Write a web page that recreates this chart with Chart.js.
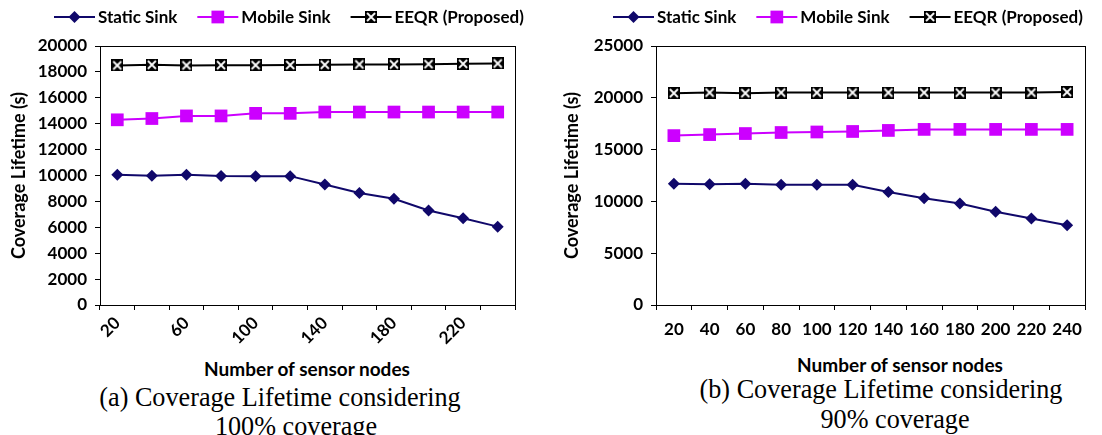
<!DOCTYPE html>
<html>
<head>
<meta charset="utf-8">
<script src="https://cdn.jsdelivr.net/npm/chart.js@4.4.0/dist/chart.umd.min.js"></script>
<style>
  body { margin: 0; background: #fff; width: 1102px; height: 435px; overflow: hidden; position: relative; font-family: Lato, sans-serif; }
  .box { position: absolute; top: 0; }
  .lbl { position: absolute; transform: translate(-50%, -50%); white-space: nowrap; color: #000; }
  .xt { font-weight: bold; font-size: 19px; }
  .cap { font-family: "Liberation Serif", serif; font-size: 27px; transform: translate(-50%, -50%) scaleX(0.97); }
</style>
</head>
<body>
<div class="box" style="left:0;width:550px;height:345px"><canvas id="chartA"></canvas></div>
<div class="box" style="left:550px;width:552px;height:345px"><canvas id="chartB"></canvas></div>
<div class="lbl xt" style="left:307px;top:368px">Number of sensor nodes</div>
<div class="lbl xt" style="left:900px;top:364px">Number of sensor nodes</div>
<div class="lbl cap" style="left:280px;top:397px">(a) Coverage Lifetime considering</div>
<div class="lbl cap" style="left:296px;top:426px">100% coverage</div>
<div class="lbl cap" style="left:881px;top:389px">(b) Coverage Lifetime considering</div>
<div class="lbl cap" style="left:895px;top:419px">90% coverage</div>
<script>
// number of sensor nodes
const nodes = [20, 40, 60, 80, 100, 120, 140, 160, 180, 200, 220, 240];

// (a) 100% coverage
const staticA = [10050, 9980, 10060, 9960, 9950, 9950, 9300, 8650, 8200, 7300, 6700, 6050];
const mobileA = [14300, 14400, 14600, 14600, 14800, 14800, 14900, 14900, 14900, 14900, 14900, 14900];
const eeqrA = [18500, 18550, 18500, 18520, 18520, 18530, 18550, 18580, 18580, 18600, 18620, 18650];
const yMaxA = 20000, yStepA = 2000;

// (b) 90% coverage
const staticB = [11700, 11650, 11700, 11600, 11600, 11600, 10900, 10300, 9800, 9000, 8350, 7700];
const mobileB = [16350, 16450, 16550, 16650, 16700, 16750, 16850, 16950, 16950, 16950, 16950, 16950];
const eeqrB = [20450, 20500, 20450, 20500, 20500, 20500, 20500, 20500, 20500, 20500, 20500, 20550];
const yMaxB = 25000, yStepB = 5000;

const NAVY = "#10086a";
const MAGENTA = "#cc00ff";
const FONT = { family: "Lato", weight: "bold", size: 17 };

// black box with a white cross, used for EEQR points
function boxCross(size) {
  const c = document.createElement("canvas");
  c.width = c.height = size;
  const g = c.getContext("2d");
  g.fillStyle = "#000";
  g.fillRect(0, 0, size, size);
  g.strokeStyle = "#fff";
  g.lineWidth = 1.8;
  g.beginPath();
  g.moveTo(2, 2); g.lineTo(size - 2, size - 2);
  g.moveTo(size - 2, 2); g.lineTo(2, size - 2);
  g.stroke();
  return c;
}
const eeqrMark = boxCross(12);

function drawMarker(ctx, ds, x, y) {
  ctx.save();
  ctx.fillStyle = ds.pointBackgroundColor;
  if (ds.pointStyle === "rectRot") {
    const r = ds.pointRadius;
    ctx.beginPath();
    ctx.moveTo(x, y - r); ctx.lineTo(x + r, y); ctx.lineTo(x, y + r); ctx.lineTo(x - r, y);
    ctx.closePath(); ctx.fill();
  } else if (ds.pointStyle === "rect") {
    const s = ds.pointRadius * Math.SQRT1_2;
    ctx.fillRect(x - s, y - s, 2 * s, 2 * s);
  } else {
    const w = ds.pointStyle.width;
    ctx.drawImage(ds.pointStyle, x - w / 2, y - w / 2);
  }
  ctx.restore();
}

// legend drawn as line + marker, like the original
const lineLegend = {
  id: "lineLegend",
  afterDraw(chart, args, opts) {
    const ctx = chart.ctx;
    let x = opts.x;
    const y = opts.y;
    ctx.save();
    ctx.font = "bold 17px Lato";
    ctx.textBaseline = "middle";
    chart.data.datasets.forEach(ds => {
      ctx.strokeStyle = ds.borderColor;
      ctx.lineWidth = 2;
      ctx.beginPath(); ctx.moveTo(x, y); ctx.lineTo(x + 41, y); ctx.stroke();
      drawMarker(ctx, ds, x + 20.5, y);
      ctx.fillStyle = "#000";
      ctx.fillText(ds.label, x + 44, y + 1);
      x += 44 + ctx.measureText(ds.label).width + 20;
    });
    ctx.restore();
  }
};

// box round the plot area
const frame = {
  id: "frame",
  beforeDatasetsDraw(chart) {
    const a = chart.chartArea, ctx = chart.ctx;
    ctx.save();
    ctx.strokeStyle = "#000";
    ctx.lineWidth = 1;
    ctx.strokeRect(Math.round(a.left) + 0.5, Math.round(a.top) + 0.5, Math.round(a.right - a.left), Math.round(a.bottom - a.top));
    ctx.restore();
  }
};

function makeChart(id, s, m, e, yMax, yStep, o) {
  const series = [
    { label: "Static Sink", data: s, borderColor: NAVY, pointBackgroundColor: NAVY, pointBorderColor: NAVY, pointStyle: "rectRot", pointRadius: 6 },
    { label: "Mobile Sink", data: m, borderColor: MAGENTA, pointBackgroundColor: MAGENTA, pointBorderColor: MAGENTA, pointStyle: "rect", pointRadius: 9 },
    { label: "EEQR (Proposed)", data: e, borderColor: "#000", pointBackgroundColor: "#000", pointBorderColor: "#000", pointStyle: eeqrMark, pointRadius: 6 }
  ];
  series.forEach(d => { d.borderWidth = 2; d.pointBorderWidth = 0; d.tension = 0; d.fill = false; });

  return new Chart(document.getElementById(id), {
    type: "line",
    data: { labels: nodes, datasets: series },
    options: {
      responsive: true,
      maintainAspectRatio: false,
      animation: false,
      layout: { padding: { left: o.padLeft, right: o.padRight, top: 46, bottom: 0 } },
      plugins: {
        legend: { display: false },
        tooltip: { enabled: false },
        lineLegend: { x: o.legendX, y: 17 }
      },
      scales: {
        x: {
          offset: true,
          grid: { offset: true, drawOnChartArea: false, tickLength: 5, color: "#000" },
          border: { color: "#000", width: 1 },
          ticks: {
            autoSkip: false,
            maxRotation: o.rot, minRotation: o.rot,
            color: "#000", font: FONT, padding: o.xPad,
            callback(v, i) { return (i % o.every === 0) ? String(this.getLabelForValue(v)) : ""; }
          },
          afterFit(sc) { sc.height = 40; }
        },
        y: {
          min: 0, max: yMax,
          grid: { drawOnChartArea: false, tickLength: 5, color: "#000" },
          border: { color: "#000", width: 1 },
          ticks: { stepSize: yStep, color: "#000", font: FONT, padding: 8, callback: v => String(v) },
          title: { display: true, text: "Coverage Lifetime (s)", color: "#000", font: { family: "Lato", weight: "bold", size: 18 }, padding: { top: 0, bottom: 0 } },
          afterFit(sc) { sc.width = o.yWidth; }
        }
      }
    },
    plugins: [frame, lineLegend]
  });
}

makeChart("chartA", staticA, mobileA, eeqrA, yMaxA, yStepA,
  { padLeft: 8, padRight: 35, yWidth: 92, legendX: 54, rot: 45, every: 2, xPad: 3 });
makeChart("chartB", staticB, mobileB, eeqrB, yMaxB, yStepB,
  { padLeft: 11, padRight: 17, yWidth: 95, legendX: 63, rot: 0, every: 1, xPad: 9 });
</script>
</body>
</html>
